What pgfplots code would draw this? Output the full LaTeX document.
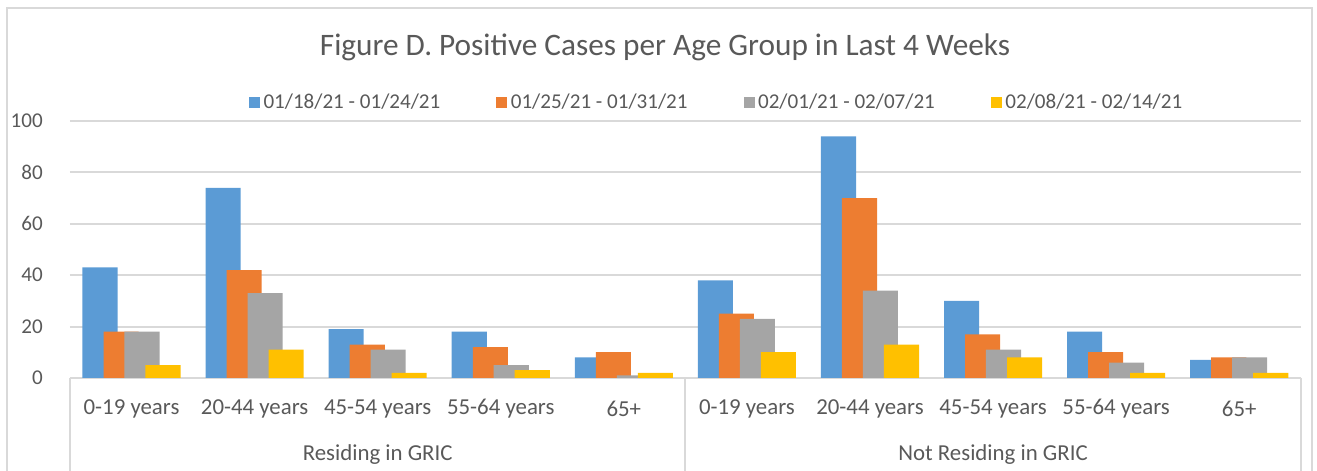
\documentclass[border=0pt]{standalone}
\usepackage{fontspec}
\setmainfont{Carlito}
\usepackage{pgfplots}
\pgfplotsset{compat=1.18}

\definecolor{sBlue}{HTML}{5B9BD5}
\definecolor{sOrange}{HTML}{ED7D31}
\definecolor{sGray}{HTML}{A5A5A5}
\definecolor{sGold}{HTML}{FFC000}
\definecolor{txt}{HTML}{595959}
\definecolor{gridc}{HTML}{D9D9D9}

\begin{document}
\begin{tikzpicture}[x=0.02cm,y=-0.02cm]
% page = 1317 x 470 px, 1 px = 0.02 cm
\path[use as bounding box] (0,0) rectangle (1317,470);
\draw[gridc, line width=0.04cm] (7,480) -- (7,8) -- (1312,8) -- (1312,480);
\node[txt, font=\fontsize{17.8}{21}\selectfont] at (665,47)
  {Figure D. Positive Cases per Age Group in Last 4 Weeks};

\begin{axis}[
    at={(1.4cm,-7.56cm)}, anchor=south west,
    scale only axis,
    width=24.62cm, height=5.14cm,
    ybar, bar width=0.285,
    xmin=-0.5, xmax=9.5,
    ymin=0, ymax=100,
    ytick={0,20,...,100},
    xtick={0,...,9},
    xticklabels={0-19 years, 20-44 years, 45-54 years, 55-64 years, 65+,
                 0-19 years, 20-44 years, 45-54 years, 55-64 years, 65+},
    major tick length=0pt,
    axis x line*=bottom, axis y line*=left,
    x axis line style={gridc, line width=0.04cm, -},
    y axis line style={draw=none},
    ymajorgrids, grid style={gridc, line width=0.04cm},
    /pgf/number format/assume math mode=true,
    tick label style={txt, font=\fontsize{13}{15}\selectfont},
    yticklabel style={font=\fontsize{12}{14}\selectfont, xshift=-0.42cm},
    xticklabel style={anchor=center, yshift=-0.62cm},
    legend columns=4,
    legend style={at={(0.526,1)}, anchor=center, yshift=0.36cm,
        draw=none, fill=none, text=txt,
        font=\fontsize{12}{14}\selectfont,
        /tikz/every even column/.append style={column sep=1.05cm}},
    legend image code/.code={\fill[#1] (0cm,-0.11cm) rectangle (0.22cm,0.11cm);},
    clip=false,
]
\addplot[fill=sBlue, draw=none, bar shift=-0.256] coordinates {
    (0,43) (1,74) (2,19) (3,18) (4,8) (5,38) (6,94) (7,30) (8,18) (9,7)};
\addplot[fill=sOrange, draw=none, bar shift=-0.085] coordinates {
    (0,18) (1,42) (2,13) (3,12) (4,10) (5,25) (6,70) (7,17) (8,10) (9,8)};
\addplot[fill=sGray, draw=none, bar shift=0.085] coordinates {
    (0,18) (1,33) (2,11) (3,5) (4,1) (5,23) (6,34) (7,11) (8,6) (9,8)};
\addplot[fill=sGold, draw=none, bar shift=0.256] coordinates {
    (0,5) (1,11) (2,2) (3,3) (4,2) (5,10) (6,13) (7,8) (8,2) (9,2)};
\legend{01/18/21 - 01/24/21, 01/25/21 - 01/31/21, 02/01/21 - 02/07/21, 02/08/21 - 02/14/21}

% group separators and group names below the category labels
\draw[gridc, line width=0.04cm] (axis cs:-0.5,0) -- ++(0pt,-2.2cm);
\draw[gridc, line width=0.04cm] (axis cs:4.5,0) -- ++(0pt,-2.2cm);
\draw[gridc, line width=0.04cm] (axis cs:9.5,0) -- ++(0pt,-2.2cm);
\node[txt, font=\fontsize{13}{15}\selectfont, yshift=-1.54cm] at (axis cs:2,0) {Residing in GRIC};
\node[txt, font=\fontsize{13}{15}\selectfont, yshift=-1.54cm] at (axis cs:7,0) {Not Residing in GRIC};
\end{axis}
\end{tikzpicture}
\end{document}
